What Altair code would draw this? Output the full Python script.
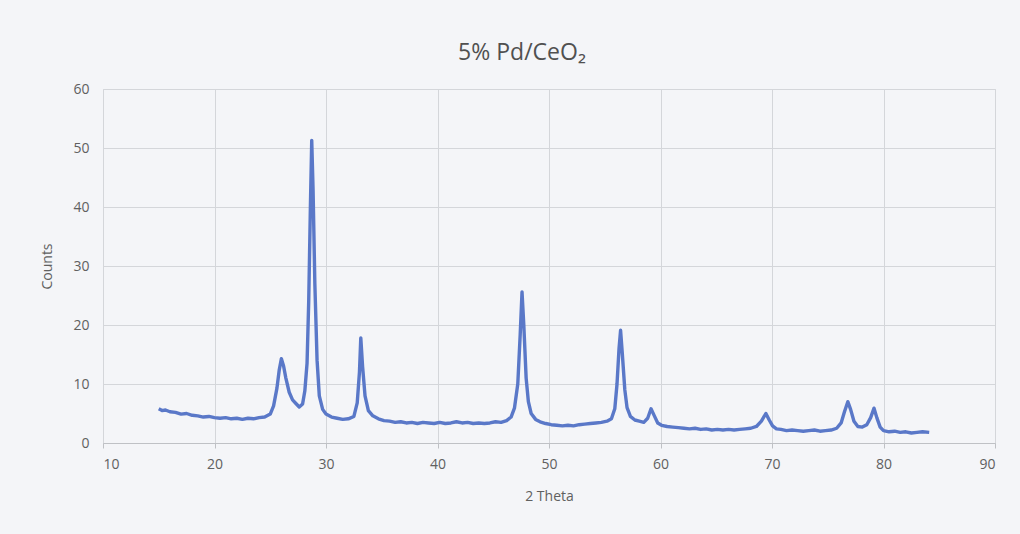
import altair as alt
import pandas as pd

two_theta = [15.0, 15.3, 15.6, 16.0, 16.5, 17.0, 17.5, 18.0, 18.5, 19.0, 19.5, 20.0, 20.5, 21.0, 21.5,
             22.0, 22.5, 23.0, 23.5, 24.0, 24.5, 25.0, 25.3, 25.6, 25.8, 26.0, 26.2, 26.4, 26.7, 27.0,
             27.3, 27.6, 27.9, 28.1, 28.3, 28.45, 28.6, 28.72, 28.84, 29.0, 29.2, 29.4, 29.7, 30.0, 30.5,
             31.0, 31.5, 32.0, 32.5, 32.8, 33.0, 33.12, 33.28, 33.5, 33.8, 34.2, 34.7, 35.2, 35.7, 36.2,
             36.7, 37.2, 37.7, 38.2, 38.7, 39.2, 39.7, 40.2, 40.7, 41.2, 41.7, 42.2, 42.7, 43.2, 43.7,
             44.2, 44.7, 45.2, 45.7, 46.2, 46.6, 46.9, 47.2, 47.42, 47.58, 47.74, 47.95, 48.15, 48.4, 48.8,
             49.2, 49.7, 50.2, 50.7, 51.2, 51.7, 52.2, 52.7, 53.2, 53.7, 54.2, 54.7, 55.2, 55.6, 55.9,
             56.1, 56.28, 56.42, 56.58, 56.8, 57.0, 57.3, 57.7, 58.1, 58.5, 58.85, 59.15, 59.45, 59.75, 60.1,
             60.6, 61.1, 61.6, 62.1, 62.6, 63.1, 63.6, 64.1, 64.6, 65.1, 65.6, 66.1, 66.6, 67.1, 67.6,
             68.1, 68.6, 69.05, 69.45, 69.75, 70.05, 70.4, 70.8, 71.3, 71.8, 72.3, 72.8, 73.3, 73.8, 74.3,
             74.8, 75.3, 75.8, 76.2, 76.5, 76.8, 77.05, 77.35, 77.7, 78.1, 78.5, 78.85, 79.15, 79.4, 79.7,
             80.0, 80.5, 81.0, 81.5, 82.0, 82.5, 83.0, 83.5, 84.1]
counts = [5.8, 5.5, 5.6, 5.3, 5.2, 4.9, 5.0, 4.7, 4.6, 4.4, 4.5, 4.3, 4.2, 4.3, 4.1,
          4.2, 4.0, 4.2, 4.1, 4.3, 4.4, 4.9, 6.3, 9.3, 12.3, 14.3, 13.0, 11.0, 8.6, 7.3,
          6.7, 6.1, 6.6, 8.8, 13.5, 24.0, 40.0, 51.3, 43.0, 27.0, 14.0, 8.0, 5.7, 4.9, 4.4,
          4.2, 4.0, 4.1, 4.5, 6.8, 12.0, 17.8, 13.0, 8.0, 5.5, 4.6, 4.1, 3.8, 3.7, 3.5,
          3.6, 3.4, 3.5, 3.3, 3.5, 3.4, 3.3, 3.5, 3.3, 3.4, 3.6, 3.4, 3.5, 3.3, 3.4,
          3.3, 3.4, 3.6, 3.5, 3.8, 4.4, 5.9, 10.0, 18.5, 25.6, 20.0, 11.0, 7.0, 5.0, 4.0,
          3.6, 3.3, 3.1, 3.0, 2.9, 3.0, 2.9, 3.1, 3.2, 3.3, 3.4, 3.5, 3.7, 4.1, 5.8,
          10.0, 16.0, 19.1, 15.0, 9.0, 6.0, 4.5, 3.9, 3.7, 3.5, 4.2, 5.8, 4.6, 3.4, 3.0,
          2.8, 2.7, 2.6, 2.5, 2.4, 2.5, 2.3, 2.4, 2.2, 2.3, 2.2, 2.3, 2.2, 2.3, 2.4,
          2.5, 2.8, 3.7, 5.0, 3.9, 2.9, 2.4, 2.3, 2.1, 2.2, 2.1, 2.0, 2.1, 2.2, 2.0,
          2.1, 2.2, 2.5, 3.4, 5.3, 7.0, 5.7, 3.7, 2.8, 2.7, 3.1, 4.3, 5.9, 4.3, 2.7,
          2.1, 1.9, 2.0, 1.8, 1.9, 1.7, 1.8, 1.9, 1.8]

x_ticks = [10, 20, 30, 40, 50, 60, 70, 80, 90]
y_ticks = [0, 10, 20, 30, 40, 50, 60]

df = pd.DataFrame({"two_theta": two_theta, "counts": counts})

FONT = "Open Sans"
GRID = "#d4d6da"
LABEL = "#606060"

chart = (
    alt.Chart(df)
    .mark_line(color="#5a78c8", strokeWidth=3.4, strokeJoin="round")
    .encode(
        x=alt.X(
            "two_theta:Q",
            scale=alt.Scale(domain=[10, 90], nice=False),
            axis=alt.Axis(
                values=x_ticks, title="2 Theta", grid=True, gridColor=GRID,
                domainColor="#bfc1c5", tickColor="#bfc1c5", tickSize=5,
                labelPadding=9, titlePadding=18,
            ),
        ),
        y=alt.Y(
            "counts:Q",
            scale=alt.Scale(domain=[0, 60], nice=False),
            axis=alt.Axis(
                values=y_ticks, title="Counts", grid=True, gridColor=GRID,
                domain=False, ticks=False, labelPadding=14, titlePadding=18,
            ),
        ),
    )
    .properties(
        width=892,
        height=354,
        title=alt.TitleParams(
            "5% Pd/CeO₂", fontSize=23, font=FONT, fontWeight="normal",
            color="#505050", anchor="middle", offset=17, dx=-27,
        ),
        background="#f4f5f8",
        padding={"left": 103, "top": 89, "right": 25, "bottom": 91},
        autosize=alt.AutoSizeParams(type="none"),
    )
    .configure_view(stroke=GRID)
    .configure_axis(
        labelFont=FONT, titleFont=FONT, labelFontSize=14, titleFontSize=14,
        labelColor=LABEL, titleColor=LABEL, titleFontWeight="normal",
    )
)

chart.save("out.html", embed_options={"renderer": "svg", "actions": False})
